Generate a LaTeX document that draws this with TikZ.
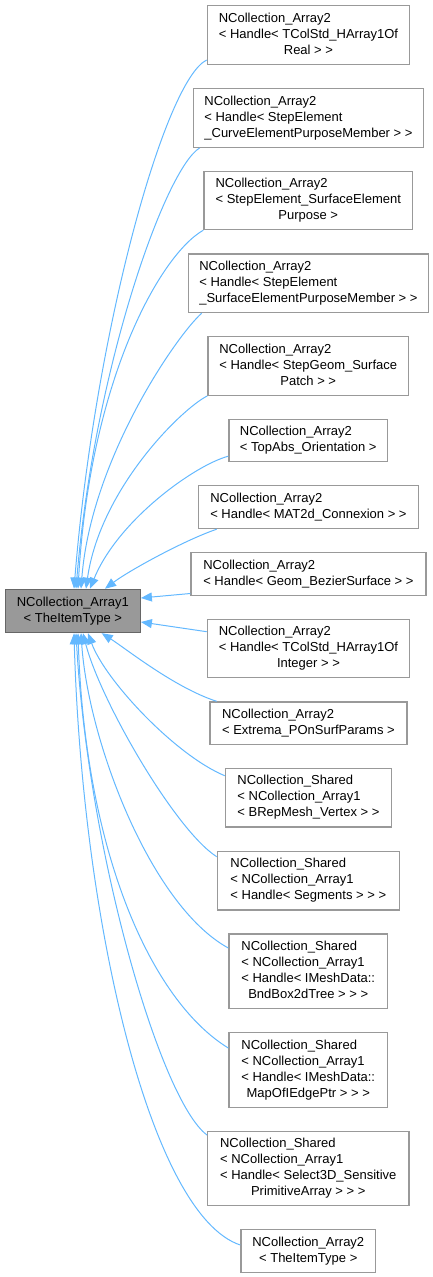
\documentclass[tikz,border=0pt]{standalone}
\usepackage{fontspec}
\setmainfont{Liberation Sans}
\usetikzlibrary{arrows.meta,calc}
\definecolor{boxgray}{HTML}{999999}
\definecolor{maingray}{HTML}{999999}
\definecolor{mainborder}{HTML}{666666}
\definecolor{edgeblue}{HTML}{63B8FF}
\newcommand{\ctr}[1]{\multicolumn{1}{@{}c@{}}{#1}}
\newcommand{\lns}[1]{\begin{tabular}{@{}l@{}}#1\end{tabular}}
\tikzset{
  box/.style={draw=boxgray, fill=white, line width=1.2pt, anchor=north west,
    inner sep=0pt, font=\fontsize{13}{16}\selectfont},
  mainbox/.style={box, draw=mainborder, fill=maingray},
  edge/.style={draw=edgeblue, line width=1pt,
    {Triangle[length=11pt,width=9pt]}-},
}
\begin{document}
\begin{tikzpicture}[x=1pt,y=-1pt]
\useasboundingbox (0,0) rectangle (433,1277);
\node[box, minimum width=202.3, minimum height=58.7] (b1) at (206.7,5)
  {\lns{NCollection\_Array2\\< Handle< TColStd\_HArray1Of\\\ctr{Real > >}}};
\node[box, minimum width=230.3, minimum height=58.7] (b2) at (192.7,88)
  {\lns{NCollection\_Array2\\< Handle< StepElement\\\ctr{\_CurveElementPurposeMember > >}}};
\node[box, minimum width=208.7, minimum height=58.3] (b3) at (203.3,170.7)
  {\lns{NCollection\_Array2\\< StepElement\_SurfaceElement\\\ctr{Purpose >}}};
\node[box, minimum width=240.3, minimum height=58.7] (b4) at (187.7,253.3)
  {\lns{NCollection\_Array2\\< Handle< StepElement\\\ctr{\_SurfaceElementPurposeMember > >}}};
\node[box, minimum width=200.7, minimum height=59] (b5) at (207.3,335.7)
  {\lns{NCollection\_Array2\\< Handle< StepGeom\_Surface\\\ctr{Patch > >}}};
\node[box, minimum width=158.7, minimum height=42.3] (b6) at (228.3,418.7)
  {\lns{NCollection\_Array2\\\ctr{< TopAbs\_Orientation >}}};
\node[box, minimum width=220.3, minimum height=43] (b7) at (197.7,485)
  {\lns{NCollection\_Array2\\\ctr{< Handle< MAT2d\_Connexion > >}}};
\node[box, minimum width=235, minimum height=43] (b8) at (190.3,551.7)
  {\lns{NCollection\_Array2\\\ctr{< Handle< Geom\_BezierSurface > >}}};
\node[mainbox, minimum width=135, minimum height=43.3] (main) at (4.7,588.7)
  {\begin{tabular}{@{}c@{}}NCollection\_Array1\\< TheItemType >\end{tabular}};
\node[box, minimum width=202.3, minimum height=58.3] (b9) at (206.7,618.7)
  {\lns{NCollection\_Array2\\< Handle< TColStd\_HArray1Of\\\ctr{Integer > >}}};
\node[box, minimum width=197, minimum height=42.7] (b10) at (209.3,701.3)
  {\lns{NCollection\_Array2\\\ctr{< Extrema\_POnSurfParams >}}};
\node[box, minimum width=166.3, minimum height=58.6] (b11) at (224.7,767.7)
  {\lns{NCollection\_Shared\\< NCollection\_Array1\\\ctr{< BRepMesh\_Vertex > >}}};
\node[box, minimum width=182, minimum height=58.6] (b12) at (216.7,850.7)
  {\lns{NCollection\_Shared\\< NCollection\_Array1\\\ctr{< Handle< Segments > > >}}};
\node[box, minimum width=158.7, minimum height=74.4] (b13) at (228.3,933.3)
  {\lns{NCollection\_Shared\\< NCollection\_Array1\\< Handle< IMeshData::\\\ctr{BndBox2dTree > > >}}};
\node[box, minimum width=158.7, minimum height=75] (b14) at (228.3,1031.7)
  {\lns{NCollection\_Shared\\< NCollection\_Array1\\< Handle< IMeshData::\\\ctr{MapOfIEdgePtr > > >}}};
\node[box, minimum width=201.3, minimum height=74.3] (b15) at (207,1130.7)
  {\lns{NCollection\_Shared\\< NCollection\_Array1\\< Handle< Select3D\_Sensitive\\\ctr{PrimitiveArray > > >}}};
\node[box, minimum width=134.7, minimum height=43] (b16) at (240.3,1229)
  {\begin{tabular}{@{}c@{}}NCollection\_Array2\\< TheItemType >\end{tabular}};
% edges (arrow at the base class)
\draw[edge] ($(main.north west)+(69.3,0)$) .. controls (95,330) and (165,80) .. ($(b1.north west)+(0,55)$);
\draw[edge] ($(main.north west)+(71.3,0)$) .. controls (94,370) and (165,169) .. ($(b2.south west)+(7,0)$);
\draw[edge] ($(main.north west)+(73.3,0)$) .. controls (90,380) and (160,255) .. (b3.south west);
\draw[edge] ($(main.north west)+(76.3,0)$) .. controls (91,459) and (177,335) .. ($(b4.south west)+(14,0)$);
\draw[edge] ($(main.north west)+(81.3,0)$) .. controls (100,490) and (180,410) .. (b5.south west);
\draw[edge] ($(main.north west)+(85.3,0)$) .. controls (118,520) and (195,465) .. ($(b6.south west)+(0,-6)$);
\draw[edge] ($(main.north west)+(100.3,0)$) .. controls (130,570) and (185,540) .. ($(b7.south west)+(19,0)$);
\draw[edge] ($(main.north east)+(0,9.3)$) -- ($(b8.south west)+(0,-2.4)$);
\draw[edge] ($(main.north east)+(0,33.3)$) -- ($(b9.north west)+(0,13)$);
\draw[edge] ($(main.south west)+(97,0)$) .. controls (125,648) and (175,688) .. ($(b10.north west)+(7.4,0)$);
\draw[edge] ($(main.south west)+(83.3,0)$) .. controls (105,680) and (175,755) .. ($(b11.north west)+(0,8)$);
\draw[edge] ($(main.south west)+(78.3,0)$) .. controls (100,700) and (175,830) .. ($(b12.north west)+(0,6)$);
\draw[edge] ($(main.south west)+(76.3,0)$) .. controls (88,740) and (150,905) .. ($(b13.north west)+(0,14.7)$);
\draw[edge] ($(main.south west)+(73.3,0)$) .. controls (85,850) and (150,1000) .. ($(b14.north west)+(0,16.3)$);
\draw[edge] ($(main.south west)+(71.3,0)$) .. controls (88,850) and (160,1100) .. ($(b15.north west)+(0,4.3)$);
\draw[edge] ($(main.south west)+(69.3,0)$) .. controls (82,920) and (150,1215) .. ($(b16.north west)+(0,16)$);
\end{tikzpicture}
\end{document}
